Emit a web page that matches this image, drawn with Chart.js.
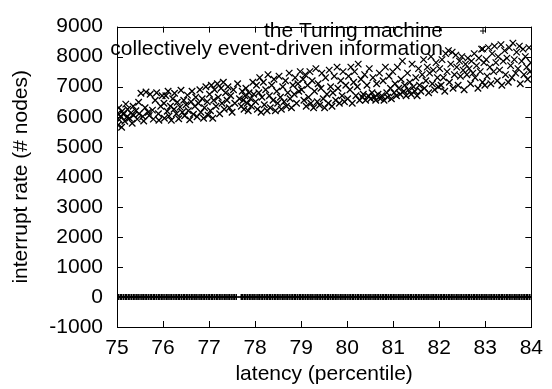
<!DOCTYPE html>
<html><head><meta charset="utf-8">
<script src="https://cdn.jsdelivr.net/npm/chart.js@4.4.0/dist/chart.umd.min.js"></script>
<style>html,body{margin:0;padding:0;background:#fff;}canvas{display:block;}</style>
</head><body>
<canvas id="c" width="552" height="389"></canvas>
<script>
const seriesNames = ["the Turing machine", "collectively event-driven information"];
const xTicks = [75, 76, 77, 78, 79, 80, 81, 82, 83, 84];
const yTicks = [-1000, 0, 1000, 2000, 3000, 4000, 5000, 6000, 7000, 8000, 9000];
const xLabel = "latency (percentile)";
const yLabel = "interrupt rate (# nodes)";

// [latency, interrupt rate]
const turingPoints = [
[75.00,0],[75.03,0],[75.07,0],[75.10,0],[75.14,0],[75.18,0],[75.21,0],[75.25,0],[75.28,0],[75.32,0],[75.36,0],[75.39,0],[75.43,0],[75.46,0],[75.50,0],[75.54,0],[75.57,0],[75.61,0],[75.64,0],[75.68,0],[75.72,0],[75.75,0],[75.79,0],[75.82,0],[75.86,0],[75.90,0],[75.93,0],[75.97,0],
[76.00,0],[76.04,0],[76.08,0],[76.11,0],[76.15,0],[76.18,0],[76.22,0],[76.26,0],[76.29,0],[76.33,0],[76.36,0],[76.40,0],[76.44,0],[76.47,0],[76.51,0],[76.54,0],[76.58,0],[76.62,0],[76.65,0],[76.69,0],[76.72,0],[76.76,0],[76.80,0],[76.83,0],[76.87,0],[76.90,0],[76.94,0],[76.98,0],
[77.01,0],[77.05,0],[77.08,0],[77.12,0],[77.16,0],[77.19,0],[77.23,0],[77.26,0],[77.30,0],[77.34,0],[77.37,0],[77.41,0],[77.44,0],[77.48,0],[77.52,0],[77.55,0],[77.59,0],[77.70,0],[77.73,0],[77.77,0],[77.80,0],[77.84,0],[77.88,0],[77.91,0],[77.95,0],[77.98,0],
[78.02,0],[78.06,0],[78.09,0],[78.13,0],[78.16,0],[78.20,0],[78.24,0],[78.27,0],[78.31,0],[78.34,0],[78.38,0],[78.42,0],[78.45,0],[78.49,0],[78.52,0],[78.56,0],[78.60,0],[78.63,0],[78.67,0],[78.70,0],[78.74,0],[78.78,0],[78.81,0],[78.85,0],[78.88,0],[78.92,0],[78.96,0],[78.99,0],
[79.03,0],[79.06,0],[79.10,0],[79.14,0],[79.17,0],[79.21,0],[79.24,0],[79.28,0],[79.32,0],[79.35,0],[79.39,0],[79.42,0],[79.46,0],[79.50,0],[79.53,0],[79.57,0],[79.60,0],[79.64,0],[79.68,0],[79.71,0],[79.75,0],[79.78,0],[79.82,0],[79.86,0],[79.89,0],[79.93,0],[79.96,0],
[80.00,0],[80.04,0],[80.07,0],[80.11,0],[80.14,0],[80.18,0],[80.22,0],[80.25,0],[80.29,0],[80.32,0],[80.36,0],[80.40,0],[80.43,0],[80.47,0],[80.50,0],[80.54,0],[80.58,0],[80.61,0],[80.65,0],[80.68,0],[80.72,0],[80.76,0],[80.79,0],[80.83,0],[80.86,0],[80.90,0],[80.94,0],[80.97,0],
[81.01,0],[81.04,0],[81.08,0],[81.12,0],[81.15,0],[81.19,0],[81.22,0],[81.26,0],[81.30,0],[81.33,0],[81.37,0],[81.40,0],[81.44,0],[81.48,0],[81.51,0],[81.55,0],[81.58,0],[81.62,0],[81.66,0],[81.69,0],[81.73,0],[81.76,0],[81.80,0],[81.84,0],[81.87,0],[81.91,0],[81.94,0],[81.98,0],
[82.02,0],[82.05,0],[82.09,0],[82.12,0],[82.16,0],[82.20,0],[82.23,0],[82.27,0],[82.30,0],[82.34,0],[82.38,0],[82.41,0],[82.45,0],[82.48,0],[82.52,0],[82.56,0],[82.59,0],[82.63,0],[82.66,0],[82.70,0],[82.74,0],[82.77,0],[82.81,0],[82.84,0],[82.88,0],[82.92,0],[82.95,0],[82.99,0],
[83.02,0],[83.06,0],[83.10,0],[83.13,0],[83.17,0],[83.20,0],[83.24,0],[83.28,0],[83.31,0],[83.35,0],[83.38,0],[83.42,0],[83.46,0],[83.49,0],[83.53,0],[83.56,0],[83.60,0],[83.64,0],[83.67,0],[83.71,0],[83.74,0],[83.78,0],[83.82,0],[83.85,0],[83.89,0],[83.92,0],[83.96,0],[84.00,0]];

const infoPoints = [
[75.01,6100],[75.02,5720],[75.04,6300],[75.05,5900],[75.08,6020],[75.10,5650],[75.11,6180],[75.14,6080],[75.17,5850],[75.19,6420],[75.22,6000],[75.23,6250],[75.27,5950],[75.30,6120],[75.33,5780],[75.35,6350],[75.36,6050],[75.41,6200],[75.44,5920],[75.47,6480],[75.48,6100],[75.52,6780],[75.56,6010],[75.58,5860],[75.61,6300],[75.63,6820],[75.68,6150],[75.70,6040],[75.72,6750],[75.77,6220],[75.79,5920],[75.83,6550],[75.86,6800],[75.90,6100],[75.91,5880],[75.95,6350],[75.98,6700],
[76.02,6450],[76.03,5950],[76.06,6700],[76.09,6180],[76.11,6850],[76.13,6020],[76.16,6350],[76.18,5880],[76.21,6600],[76.24,6250],[76.25,6780],[76.29,6100],[76.31,6480],[76.34,5930],[76.37,6320],[76.39,6880],[76.42,6150],[76.45,6550],[76.47,6030],[76.50,6400],[76.53,6720],[76.55,6200],[76.58,5900],[76.61,6500],[76.63,6850],[76.66,6080],[76.69,6350],[76.71,6650],[76.74,6000],[76.77,6450],[76.80,6900],[76.82,6150],[76.85,6600],[76.88,5950],[76.90,6300],[76.93,7000],[76.96,6500],[76.98,6050],
[77.01,6750],[77.03,6200],[77.05,7050],[77.08,5950],[77.10,6550],[77.12,6900],[77.15,6350],[77.18,7100],[77.20,6650],[77.23,6100],[77.26,6950],[77.28,6450],[77.31,7150],[77.33,6250],[77.36,6800],[77.39,6550],[77.41,7000],[77.44,6300],[77.47,6700],[77.50,6150],[77.53,6900],[77.56,6450],[77.62,7100],[77.66,6600],[77.70,6350],[77.72,6850],[77.74,6550],[77.76,6250],[77.78,6700],[77.80,6950],[77.83,6450],[77.85,6200],[77.87,6800],[77.90,6600],[77.92,6350],[77.95,7150],[77.97,6750],
[78.01,6500],[78.03,7050],[78.05,6250],[78.08,6800],[78.10,7300],[78.13,6150],[78.15,6650],[78.18,7150],[78.20,6400],[78.23,6900],[78.26,6200],[78.28,7400],[78.31,6700],[78.33,6300],[78.36,7050],[78.39,6550],[78.41,7250],[78.44,6200],[78.47,6850],[78.49,6450],[78.52,7350],[78.55,6650],[78.57,6250],[78.60,7000],[78.63,6500],[78.66,7200],[78.68,6350],[78.71,6800],[78.74,7450],[78.76,6600],[78.79,6300],[78.82,7050],[78.85,6750],[78.87,7300],[78.90,6450],[78.93,7100],[78.95,6850],[78.98,7500],
[79.01,6900],[79.04,7250],[79.06,6550],[79.09,7400],[79.11,6350],[79.14,7050],[79.16,6650],[79.19,7500],[79.21,6450],[79.24,7200],[79.27,6300],[79.29,6850],[79.32,7600],[79.35,6500],[79.37,7100],[79.40,6380],[79.43,6950],[79.45,7450],[79.48,6600],[79.51,6300],[79.53,7300],[79.56,6750],[79.59,6450],[79.61,7550],[79.64,7000],[79.67,6350],[79.69,6800],[79.72,7350],[79.75,6550],[79.78,7650],[79.80,6950],[79.83,6450],[79.86,7200],[79.89,6700],[79.91,7500],[79.94,6500],[79.97,7050],
[80.01,6600],[80.03,7350],[80.06,6900],[80.08,7650],[80.11,6450],[80.14,7150],[80.16,7500],[80.19,6700],[80.22,7000],[80.24,7750],[80.27,6550],[80.30,7250],[80.33,6650],[80.35,6750],[80.38,7400],[80.40,6550],[80.43,7050],[80.46,6700],[80.48,7600],[80.51,6600],[80.54,6800],[80.56,7300],[80.59,6650],[80.62,6550],[80.64,7100],[80.67,6750],[80.70,7450],[80.72,6600],[80.75,6700],[80.78,7200],[80.80,6550],[80.83,7650],[80.86,6800],[80.88,6650],[80.91,7350],[80.94,6950],[80.96,6600],[80.99,7500],
[81.02,6800],[81.04,7100],[81.07,6700],[81.09,7650],[81.12,6950],[81.15,6750],[81.17,7250],[81.20,7850],[81.23,6850],[81.25,7050],[81.28,6700],[81.31,7450],[81.33,6900],[81.36,7150],[81.39,6750],[81.41,7750],[81.44,7000],[81.47,6850],[81.49,7300],[81.52,6700],[81.55,7600],[81.57,7050],[81.60,6850],[81.63,7400],[81.66,7900],[81.68,6950],[81.71,7200],[81.74,7650],[81.77,6800],[81.79,7450],[81.82,8000],[81.85,7100],[81.87,7550],[81.90,6900],[81.93,7800],[81.96,7300],[81.98,7000],
[82.01,7600],[82.04,7050],[82.06,7900],[82.09,7300],[82.12,6850],[82.14,8100],[82.17,7500],[82.20,8200],[82.22,7150],[82.25,7750],[82.28,8150],[82.30,6950],[82.33,7400],[82.36,8050],[82.38,7650],[82.41,7050],[82.44,7850],[82.46,7350],[82.49,8000],[82.52,7550],[82.54,6900],[82.57,7750],[82.60,7400],[82.62,7950],[82.65,7600],[82.68,7100],[82.70,7850],[82.73,7450],[82.76,8100],[82.78,7300],[82.81,7700],[82.84,6950],[82.86,7950],[82.89,7500],[82.92,8250],[82.94,7150],[82.97,7800],[82.99,7050],
[83.02,7900],[83.04,7350],[83.07,8300],[83.10,7650],[83.12,7100],[83.15,8100],[83.18,7500],[83.20,8350],[83.23,7800],[83.26,7200],[83.28,8000],[83.31,7550],[83.34,8400],[83.36,7050],[83.39,7850],[83.42,8200],[83.44,7400],[83.47,7950],[83.50,7150],[83.52,8300],[83.55,7700],[83.58,7300],[83.60,8450],[83.63,7900],[83.66,7450],[83.68,8150],[83.71,7600],[83.74,8350],[83.76,7100],[83.79,7850],[83.82,8250],[83.84,7400],[83.87,8000],[83.90,7650],[83.92,7250],[83.95,8300],[83.97,7500],[83.99,7800]];

const FONT = { family: "'Liberation Sans', Arial, sans-serif", size: 21 };
const styles = ['cross', 'crossRot'];
const radii = [3, 4.6];
const widths = [1.5, 1.3];

const frameAndTicks = {
  id: 'frameAndTicks',
  afterDatasetsDraw(chart) {
    const ctx = chart.ctx, a = chart.chartArea;
    const xs = chart.scales.x, ys = chart.scales.y;
    ctx.save();
    ctx.strokeStyle = '#000';
    ctx.lineWidth = 1;
    ctx.beginPath();
    const L = 6;
    xs.ticks.forEach(t => {
      const px = Math.round(xs.getPixelForValue(t.value)) + 0.5;
      ctx.moveTo(px, a.bottom); ctx.lineTo(px, a.bottom - L);
      ctx.moveTo(px, a.top); ctx.lineTo(px, a.top + L);
    });
    ys.ticks.forEach(t => {
      const py = Math.round(ys.getPixelForValue(t.value)) + 0.5;
      ctx.moveTo(a.left, py); ctx.lineTo(a.left + L, py);
      ctx.moveTo(a.right, py); ctx.lineTo(a.right - L, py);
    });
    ctx.stroke();
    ctx.strokeRect(Math.round(a.left) + 0.5, Math.round(a.top) + 0.5,
                   Math.round(a.right - a.left), Math.round(a.bottom - a.top));
    // legend (key) inside the plot, top right
    ctx.font = FONT.size + 'px ' + FONT.family;
    ctx.fillStyle = '#000';
    ctx.textAlign = 'right';
    ctx.textBaseline = 'alphabetic';
    const baselines = [37, 55];
    chart.data.datasets.forEach((ds, i) => {
      ctx.fillText(ds.label, 443, baselines[i]);
      ctx.strokeStyle = '#000';
      ctx.lineWidth = 1;
      Chart.helpers.drawPoint(ctx, { pointStyle: styles[i], radius: radii[i], borderWidth: 1, rotation: 0 }, 483, baselines[i] - 6);
    });
    ctx.restore();
  }
};

new Chart(document.getElementById('c'), {
  type: 'scatter',
  data: {
    datasets: [
      { label: seriesNames[0], data: turingPoints.map(p => ({ x: p[0], y: p[1] })),
        pointStyle: styles[0], pointRadius: radii[0], borderColor: '#000', backgroundColor: '#000', borderWidth: widths[0], pointHoverRadius: radii[0] },
      { label: seriesNames[1], data: infoPoints.map(p => ({ x: p[0], y: p[1] })),
        pointStyle: styles[1], pointRadius: radii[1], borderColor: '#000', backgroundColor: '#000', borderWidth: widths[1], pointHoverRadius: radii[1] }
    ]
  },
  options: {
    responsive: false, animation: false, devicePixelRatio: 1,
    layout: { padding: { top: 15, right: 17, left: 0, bottom: 0 } },
    plugins: { legend: { display: false }, tooltip: { enabled: false } },
    scales: {
      x: {
        type: 'linear', min: xTicks[0], max: xTicks[xTicks.length - 1],
        afterBuildTicks: s => { s.ticks = xTicks.map(v => ({ value: v })); },
        afterFit: s => { s.height = 62; },
        grid: { display: false, drawTicks: false }, border: { display: false },
        ticks: { color: '#000', font: FONT, padding: 9, maxRotation: 0, autoSkip: false },
        title: { display: true, text: xLabel, color: '#000', font: FONT, padding: { top: 0, bottom: 2 } }
      },
      y: {
        type: 'linear', min: yTicks[0], max: yTicks[yTicks.length - 1],
        afterBuildTicks: s => { s.ticks = yTicks.map(v => ({ value: v })); },
        afterFit: s => { s.width = 117; },
        grid: { display: false, drawTicks: false }, border: { display: false },
        ticks: { color: '#000', font: FONT, padding: 14, autoSkip: false, callback: v => String(v) },
        title: { display: true, text: yLabel, color: '#000', font: FONT, padding: { top: 9, bottom: 0 } }
      }
    }
  },
  plugins: [frameAndTicks]
});
</script>
</body></html>
